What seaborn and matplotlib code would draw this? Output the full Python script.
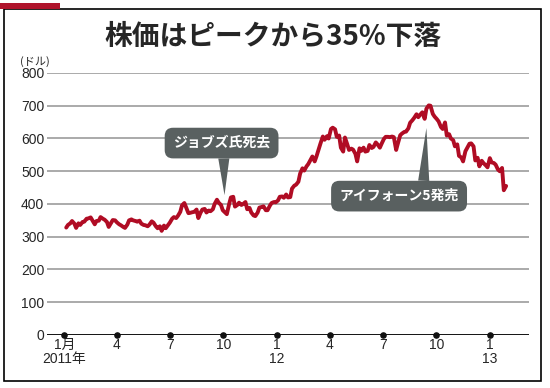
import pandas as pd
import numpy as np
import matplotlib
matplotlib.use('Agg')
import matplotlib.pyplot as plt
import seaborn as sns
from matplotlib.patches import Rectangle

# Closing prices (USD): Friday closes ...
fri_2011 = [336, 348, 327, 336,
            346, 356, 350, 348,
            360, 352, 330, 351,
            344, 335, 327, 350, 350,
            346, 340, 335, 337,
            343, 326, 318, 326,
            343, 360, 364, 396, 390,
            373, 376, 357, 383,
            374, 378, 400, 404, 381,
            369, 420, 392, 404,
            400, 384, 374, 363,
            389, 393, 381, 403, 405]
fri_2012 = [422, 419, 420, 447,
            459, 493, 502, 522,
            545, 545, 585, 596, 600,
            633, 605, 572, 603,
            565, 566, 530, 562,
            560, 580, 574, 582, 584,
            605, 604, 604, 585,
            615, 621, 648, 663, 665,
            680, 691, 700, 667,
            652, 629, 609, 600,
            576, 547, 530, 571, 585,
            533, 515, 525, 512]
fri_2013 = [527, 520, 500, 442]

# ... and Tuesday closes of the same weeks
tue_2011 = [328, 341, 340, 341,
            345, 355, 359, 338,
            349, 355, 345, 342, 350,
            338, 330, 337, 353,
            348, 349, 336, 332, 347,
            332, 332, 334, 336,
            355, 357, 376, 403,
            372, 375, 383, 374,
            385, 380, 384, 413, 397,
            374, 400, 422, 397,
            397, 406, 388, 365,
            374, 391, 381, 395, 406]
tue_2012 = [411, 423, 429, 421,
            456, 468, 509, 515,
            535, 530, 568, 606, 607,
            629, 628, 609, 560,
            582, 569, 553, 570,
            572, 562, 571, 588, 572,
            599, 605, 606, 565,
            610, 620, 631, 656, 674,
            674, 660, 701, 675,
            659, 635, 649, 613,
            595, 582, 542, 561, 584,
            576, 541, 532, 518]
tue_2013 = [540, 525, 505, 510, 455]

fri = fri_2011 + fri_2012 + fri_2013
tue = tue_2011 + tue_2012 + tue_2013
df = pd.concat([
    pd.DataFrame({'date': pd.date_range('2011-01-04', periods=len(tue), freq='W-TUE'), 'price': tue}),
    pd.DataFrame({'date': pd.date_range('2011-01-07', periods=len(fri), freq='W-FRI'), 'price': fri}),
]).sort_values('date').reset_index(drop=True)

tick_dates = pd.to_datetime(['2011-01-01', '2011-04-01', '2011-07-01', '2011-10-01',
                             '2012-01-01', '2012-04-01', '2012-07-01', '2012-10-01',
                             '2013-01-01'])
tick_labels = ['1月\n2011年', '4', '7', '10', '1\n12', '4', '7', '10', '1\n13']
y_ticks = [0, 100, 200, 300, 400, 500, 600, 700, 800]

# callouts: text, target date/value, box date/value, pointer base in box
callouts = [('ジョブズ氏死去', '2011-10-03', 427, '2011-09-28', 586, 0.52),
            ('アイフォーン5発売', '2012-09-14', 632, '2012-07-29', 424, 0.70)]

sns.set_style('white')
plt.rcParams['font.family'] = ['Liberation Sans', 'Noto Sans CJK JP', 'DejaVu Sans']

fig = plt.figure(figsize=(5.5, 3.88), dpi=100)
ax = fig.add_axes([0.0855, 0.1366, 0.876, 0.6753])

for v in y_ticks[1:]:
    ax.axhline(v, color='#a4a4a4', lw=1.3, zorder=1)
ax.axhline(0, color='black', lw=1.3, zorder=2)

sns.lineplot(data=df, x='date', y='price', ax=ax, color='#b00c24', lw=2.8, zorder=3)

ax.scatter(tick_dates, np.zeros(len(tick_dates)), s=14, color='#111111',
           zorder=5, clip_on=False)

ax.set_xlim(pd.Timestamp('2010-12-02'), pd.Timestamp('2013-03-09'))
ax.set_ylim(0, 800)
ax.set_xticks(tick_dates)
ax.set_xticklabels(tick_labels, fontsize=10, linespacing=1.0)
ax.set_yticks(y_ticks)
ax.set_yticklabels([str(v) for v in y_ticks], fontsize=10)
ax.tick_params(length=0, pad=2)
ax.set_xlabel('')
ax.set_ylabel('')
for s in ax.spines.values():
    s.set_visible(False)

for txt, tx, ty, bx, by, rel in callouts:
    ax.annotate(txt, xy=(pd.Timestamp(tx), ty), xytext=(pd.Timestamp(bx), by),
                ha='center', va='center', fontsize=10, fontweight='bold',
                color='white', family=['Noto Sans CJK JP'], zorder=6,
                bbox=dict(boxstyle='round,pad=0.6,rounding_size=0.6',
                          fc='#596060', ec='none'),
                arrowprops=dict(arrowstyle='wedge,tail_width=0.8', relpos=(rel, 0.5),
                                fc='#596060', ec='none', shrinkA=0, shrinkB=0))

fig.text(0.497, 0.905, '株価はピークから35%下落', ha='center', va='center',
         fontsize=20, fontweight='bold', family=['Noto Sans CJK JP'])
fig.text(0.036, 0.842, '(ドル)', ha='left', va='center', fontsize=8,
         family=['Noto Sans CJK JP'])

fig.add_artist(Rectangle((0.0073, 0.018), 0.976, 0.959, transform=fig.transFigure,
                         fill=False, ec='black', lw=1.2))
fig.add_artist(Rectangle((0.0, 0.977), 0.109, 0.0155, transform=fig.transFigure,
                         fc='#b0142c', ec='none'))

fig.savefig('out.png', dpi=100)
